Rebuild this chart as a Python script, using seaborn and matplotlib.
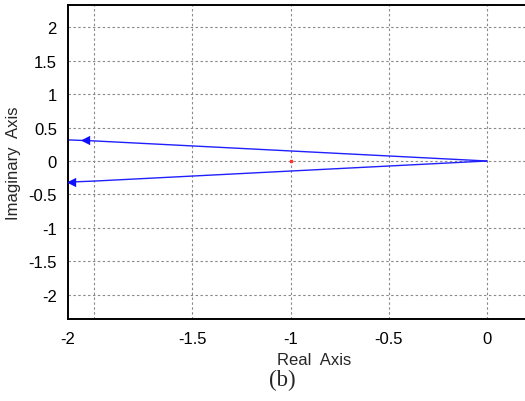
import numpy as np
import pandas as pd
import matplotlib
matplotlib.use("Agg")
import matplotlib.pyplot as plt
import matplotlib.transforms as mtransforms
import seaborn as sns

# Root-locus branches (real part, imaginary part)
real_part = [0.0, -0.5, -1.0, -1.5, -2.0, -2.13]
imag_upper = [0.0, 0.075, 0.15, 0.225, 0.30, 0.315]
imag_lower = [0.0, -0.075, -0.15, -0.225, -0.30, -0.315]

# Direction arrows on each branch
arrow_real = [-2.046, -2.12]
arrow_imag = [0.307, -0.314]

# Pole marker
pole_real = [-1.0]
pole_imag = [0.0]

x_ticks = [-2, -1.5, -1, -0.5, 0]
x_tick_labels = ["-2", "-1.5", "-1", "-0.5", "0"]
y_ticks = [-2, -1.5, -1, -0.5, 0, 0.5, 1, 1.5, 2]
y_tick_labels = ["-2", "-1.5", "-1", "-0.5", "0", "0.5", "1", "1.5", "2"]

sns.set_style("white")
plt.rcParams["font.family"] = ["Liberation Sans", "DejaVu Sans"]

fig = plt.figure(figsize=(5.25, 4.02), dpi=100)
W, H = 525, 402
ax = fig.add_axes([68 / W, (H - 320) / H, (560 - 68) / W, 314 / H])

branches = pd.DataFrame({
    "re": real_part + real_part,
    "im": imag_upper + imag_lower,
    "branch": ["upper"] * len(real_part) + ["lower"] * len(real_part),
})
sns.lineplot(data=branches, x="re", y="im", units="branch", estimator=None,
             sort=False, color="#2020ff", linewidth=1.0, ax=ax, legend=False)

arrows = pd.DataFrame({"re": arrow_real, "im": arrow_imag})
sns.scatterplot(data=arrows, x="re", y="im", marker="<", s=45,
                color="#1010ff", edgecolor="#1010ff", linewidth=0, ax=ax,
                legend=False, zorder=4)

ax.plot(pole_real, pole_imag, marker="s", markersize=1.5, color="#ff3030",
        linestyle="none", zorder=5)

ax.set_xlim(-2.133, 0.372)
ax.set_ylim(-2.36, 2.33)
ax.set_xticks(x_ticks)
ax.set_xticklabels(x_tick_labels)
ax.set_yticks(y_ticks)
ax.set_yticklabels(y_tick_labels)

ax.grid(True, color="#8a8a8a", linestyle=(0, (2.2, 2.2)), linewidth=0.8)
ax.set_axisbelow(True)
for side in ["left", "bottom", "top", "right"]:
    ax.spines[side].set_visible(True)
    ax.spines[side].set_color("black")
    ax.spines[side].set_linewidth(1.4)

ax.tick_params(axis="both", direction="in", length=4, width=0.8,
               colors="#7a7a7a", labelcolor="black", labelsize=12)
ax.tick_params(axis="x", pad=9)
ax.tick_params(axis="y", pad=8)

# shift the leftmost x label to the axes edge
lbl = ax.get_xticklabels()[0]
lbl.set_transform(lbl.get_transform() +
                  mtransforms.ScaledTranslation(-26 / 100, 0, fig.dpi_scale_trans))

ax.set_xlabel("Real  Axis", fontsize=12, labelpad=4)
ax.set_ylabel("Imaginary  Axis", fontsize=12, labelpad=5)

fig.text(282 / W, 1 - 380 / H, "(b)", ha="center", va="center",
         fontsize=16.5, family=["Liberation Serif", "DejaVu Serif"])

fig.savefig("out.png", dpi=100)
